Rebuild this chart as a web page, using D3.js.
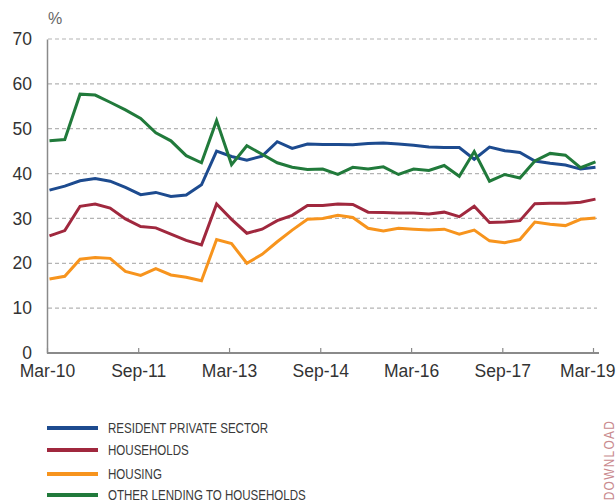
<!DOCTYPE html>
<html>
<head>
<meta charset="utf-8">
<script src="https://cdn.jsdelivr.net/npm/d3@7"></script>
<style>
body { margin: 0; background: #fff; }
svg { display: block; font-family: "Liberation Sans", Arial, sans-serif; }
</style>
</head>
<body>
<svg width="616" height="502"></svg>
<script>
// quarterly observations (mid-month of each quarter end month)
var dates = [
  "2010-03-16","2010-06-16","2010-09-16","2010-12-16",
  "2011-03-16","2011-06-16","2011-09-16","2011-12-16",
  "2012-03-16","2012-06-16","2012-09-16","2012-12-16",
  "2013-03-16","2013-06-16","2013-09-16","2013-12-16",
  "2014-03-16","2014-06-16","2014-09-16","2014-12-16",
  "2015-03-16","2015-06-16","2015-09-16","2015-12-16",
  "2016-03-16","2016-06-16","2016-09-16","2016-12-16",
  "2017-03-16","2017-06-16","2017-09-16","2017-12-16",
  "2018-03-16","2018-06-16","2018-09-16","2018-12-16",
  "2019-03-16"
];

var residentPrivate = [36.3,37.2,38.4,38.9,38.3,36.9,35.3,35.8,34.9,35.2,37.5,45.0,43.8,43.0,43.9,47.1,45.6,46.6,46.5,46.5,46.4,46.7,46.8,46.6,46.3,45.9,45.8,45.8,43.2,45.9,45.1,44.7,42.8,42.3,41.9,41.0,41.4];
var households = [26.1,27.3,32.7,33.2,32.3,29.9,28.2,27.9,26.5,25.1,24.1,33.2,29.8,26.7,27.6,29.5,30.7,32.9,32.9,33.2,33.1,31.4,31.3,31.2,31.2,31.0,31.4,30.4,32.7,29.1,29.2,29.5,33.3,33.4,33.4,33.6,34.3];
var housing = [16.5,17.1,20.9,21.3,21.1,18.2,17.3,18.8,17.4,16.9,16.1,25.3,24.4,20.0,22.0,24.8,27.4,29.8,30.0,30.7,30.2,27.8,27.2,27.8,27.6,27.4,27.6,26.5,27.4,25.0,24.6,25.3,29.2,28.7,28.4,29.8,30.1];
var otherLending = [47.3,47.6,57.7,57.5,55.9,54.2,52.3,49.1,47.3,44.0,42.4,51.8,42.0,46.2,44.3,42.4,41.4,40.9,41.0,39.8,41.4,41.0,41.5,39.8,41.0,40.7,41.8,39.4,44.9,38.3,39.8,39.0,42.8,44.5,44.1,41.3,42.6];

var seriesNames = ["RESIDENT PRIVATE SECTOR","HOUSEHOLDS","HOUSING","OTHER LENDING TO HOUSEHOLDS"];
var seriesColors = ["#1d4b8f","#a0283e","#f7941d","#217a3b"];
var seriesValues = [residentPrivate, households, housing, otherLending];

var xTickDates = ["2010-03-01","2011-09-01","2013-03-01","2014-09-01","2016-03-01","2017-09-01","2019-03-01"];
var yTicks = [0,10,20,30,40,50,60,70];

var parse = d3.timeParse("%Y-%m-%d");
var svg = d3.select("svg");

var x = d3.scaleTime()
  .domain([parse("2010-03-01"), parse("2019-03-01")])
  .range([47, 593]);
var y = d3.scaleLinear().domain([0, 70]).range([353, 39]);

// gridlines
svg.append("g")
  .selectAll("line")
  .data(yTicks.filter(function(d) { return d > 0; }))
  .enter()
  .append("line")
  .attr("x1", 48)
  .attr("x2", 597)
  .attr("y1", function(d) { return y(d); })
  .attr("y2", function(d) { return y(d); })
  .attr("stroke", "#b4b4b4")
  .attr("stroke-width", 1.2)
  .attr("stroke-dasharray", "4,3");

// y axis
var yAxis = svg.append("g")
  .attr("transform", "translate(47,0)")
  .call(d3.axisLeft(y).tickValues(yTicks).tickSize(0).tickPadding(15));
yAxis.select(".domain").attr("stroke", "#8a8a8a").attr("stroke-width", 1.5);
yAxis.selectAll("text")
  .attr("font-size", "17.5px")
  .attr("fill", "#333")
  .attr("font-family", "Liberation Sans, Arial, sans-serif");

// x axis (ticks point inward)
var xAxis = svg.append("g")
  .attr("transform", "translate(0,353)")
  .call(d3.axisBottom(x)
    .tickValues(xTickDates.map(parse))
    .tickFormat(d3.timeFormat("%b-%y"))
    .tickSizeInner(-5)
    .tickSizeOuter(0)
    .tickPadding(12));
xAxis.select(".domain").attr("d", "M47,0H599").attr("stroke", "#8a8a8a").attr("stroke-width", 1.8);
xAxis.selectAll(".tick line").attr("stroke", "#8a8a8a").attr("stroke-width", 1.2);
xAxis.selectAll("text")
  .attr("font-size", "17.5px")
  .attr("fill", "#333")
  .attr("font-family", "Liberation Sans, Arial, sans-serif");
// keep the last label inside the frame, as the original does
xAxis.selectAll(".tick:last-of-type text")
  .attr("text-anchor", "end")
  .attr("dx", 22);

// percent label
svg.append("text")
  .attr("x", 48)
  .attr("y", 24)
  .attr("font-size", "16px")
  .attr("fill", "#666")
  .text("%");

// series lines
var line = d3.line()
  .x(function(d, i) { return x(parse(dates[i])); })
  .y(function(d) { return y(d); });

svg.append("g")
  .selectAll("path")
  .data(seriesValues)
  .enter()
  .append("path")
  .attr("d", function(d) { return line(d); })
  .attr("fill", "none")
  .attr("stroke", function(d, i) { return seriesColors[i]; })
  .attr("stroke-width", 3)
  .attr("stroke-linejoin", "miter");

// legend
var legendRowY = [428, 450, 474, 495];
var legend = svg.append("g")
  .selectAll("g")
  .data(seriesNames)
  .enter()
  .append("g")
  .attr("transform", function(d, i) { return "translate(47," + legendRowY[i] + ")"; });

legend.append("line")
  .attr("x1", 0)
  .attr("x2", 51)
  .attr("stroke", function(d, i) { return seriesColors[i]; })
  .attr("stroke-width", 4);

// condensed look: squeeze a regular face horizontally
legend.append("text")
  .attr("transform", "translate(61,0) scale(0.77,1)")
  .attr("dy", "0.36em")
  .attr("font-size", "15px")
  .attr("fill", "#3a3a3a")
  .text(function(d) { return d; });

// side link text
svg.append("text")
  .attr("transform", "translate(614,420) rotate(-90) scale(0.85,1)")
  .attr("text-anchor", "end")
  .attr("font-size", "14px")
  .attr("letter-spacing", "1.5px")
  .attr("fill", "#c98a8e")
  .text("DOWNLOAD");
</script>
</body>
</html>
